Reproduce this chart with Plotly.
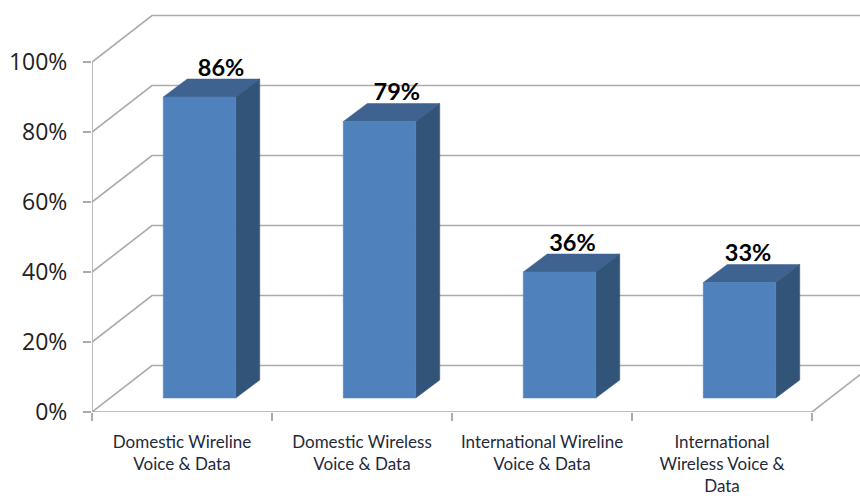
import plotly.graph_objects as go

categories = ["Domestic Wireline<br>Voice &amp; Data", "Domestic Wireless<br>Voice &amp; Data",
              "International Wireline<br>Voice &amp; Data", "International<br>Wireless Voice &amp;<br>Data"]
values = [86, 79, 36, 33]
y_ticks = [0, 20, 40, 60, 80, 100]
y_tick_labels = ["0%", "20%", "40%", "60%", "80%", "100%"]

FRONT, TOP, SIDE = "#4f81bd", "#3e6391", "#335479"
GRID = "#ababab"

WALL_X, WALL_Y = 60 / 180, 46.5 / 3.5     # wall depth in axis units
DEPTH_X, DEPTH_Y = 24 / 180, 18 / 3.5     # bar depth in axis units
BAR_W, BAR_X_SHIFT, BAR_BASE = 72.5 / 180, 17.5 / 180, 4

fig = go.Figure()


def line(xs, ys):
    fig.add_trace(go.Scatter(x=xs, y=ys, mode="lines", line=dict(color=GRID, width=1.6),
                             hoverinfo="skip", showlegend=False))


def face(xs, ys, color):
    fig.add_trace(go.Scatter(x=xs, y=ys, mode="lines", fill="toself", fillcolor=color,
                             line=dict(color=color, width=0.5), hoverinfo="skip", showlegend=False))


n = len(values)
# walls and gridlines
for t in y_ticks:
    line([0, WALL_X, n + WALL_X], [t, t + WALL_Y, t + WALL_Y])
line([0, 0], [0, 100])
line([0, n, n + WALL_X], [0, 0, WALL_Y])

# bars
for i, v in enumerate(values):
    x0 = i + 0.5 + BAR_X_SHIFT - BAR_W / 2
    x1 = x0 + BAR_W
    y0, y1 = BAR_BASE, BAR_BASE + v
    face([x0, x1, x1 + DEPTH_X, x0 + DEPTH_X, x0], [y1, y1, y1 + DEPTH_Y, y1 + DEPTH_Y, y1], TOP)
    face([x1, x1 + DEPTH_X, x1 + DEPTH_X, x1, x1], [y0, y0 + DEPTH_Y, y1 + DEPTH_Y, y1, y0], SIDE)
    face([x0, x1, x1, x0, x0], [y0, y0, y1, y1, y0], FRONT)

# data labels
fig.add_trace(go.Scatter(
    x=[i + 0.5 + BAR_X_SHIFT + 0.12 - 0.024 * i for i in range(n)],
    y=[BAR_BASE + v + 7.7 for v in values],
    mode="text", text=[f"{v}%" for v in values], textposition="middle center",
    textfont=dict(family="Lato", size=23.5, color="#000000", weight="bold"),
    hoverinfo="skip", showlegend=False))

fig.update_layout(
    width=860, height=496, margin=dict(l=92, r=0, t=0, b=84),
    plot_bgcolor="#ffffff", paper_bgcolor="#ffffff", showlegend=False,
    xaxis=dict(range=[0, (860 - 92) / 180], tickmode="array",
               tickvals=[i + 0.5 for i in range(n)], ticktext=categories,
               showgrid=False, zeroline=False, showline=False, ticks="", ticklen=0,
               tickangle=0, ticklabelstandoff=18, automargin=False,
               tickfont=dict(family="Lato", size=17, color="#1f2a3a"),
               minor=dict(tickmode="array", tickvals=list(range(n + 1)), ticks="outside",
                          ticklen=8, tickwidth=1.6, tickcolor=GRID, showgrid=False)),
    yaxis=dict(range=[0, 412 / 3.5], tickmode="array", tickvals=y_ticks, ticktext=y_tick_labels,
               showgrid=False, zeroline=False, showline=False, ticks="outside",
               ticklen=8, tickwidth=1.6, tickcolor=GRID, ticklabelstandoff=11, automargin=False,
               tickfont=dict(family="Open Sans", size=23, color="#222222")),
)

fig.write_html("out.html", config={"displayModeBar": False},
               post_script="document.body.style.margin='0';")
